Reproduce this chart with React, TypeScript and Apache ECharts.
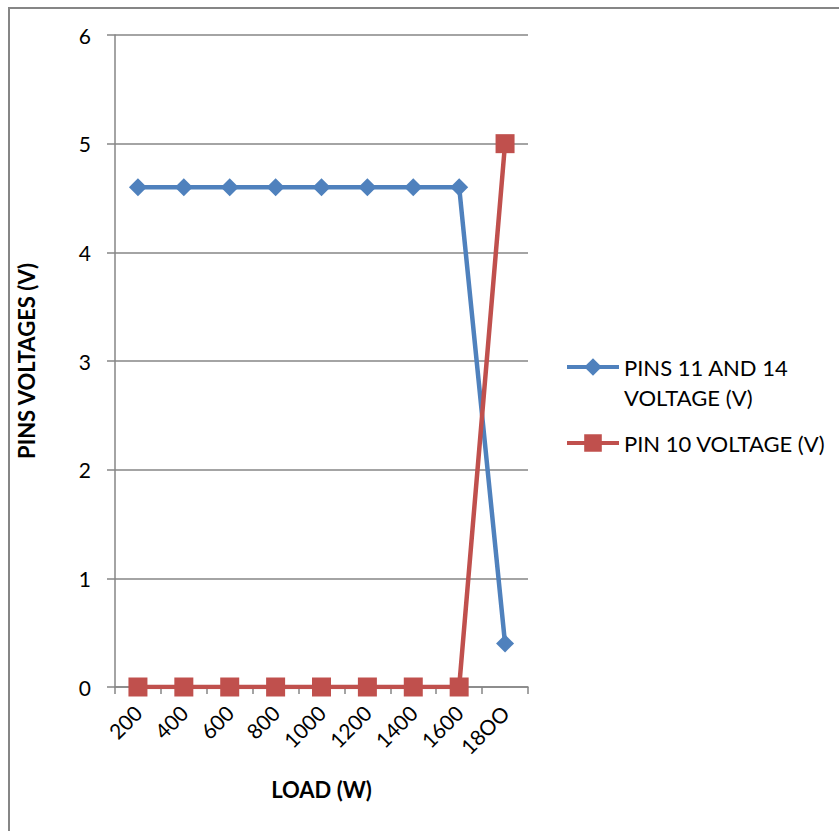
import React, { useEffect, useRef } from "react";
import * as echarts from "echarts";

const categories = ["200", "400", "600", "800", "1000", "1200", "1400", "1600", "18OO"];
const pins11and14 = [4.6, 4.6, 4.6, 4.6, 4.6, 4.6, 4.6, 4.6, 0.4];
const pin10 = [0, 0, 0, 0, 0, 0, 0, 0, 5];
const seriesNames = ["PINS 11 AND 14 VOLTAGE (V)", "PIN 10 VOLTAGE (V)"];

const FONT = "Lato";
const GRAY = "#868686";

export default function App() {
  const ref = useRef<HTMLDivElement>(null);
  useEffect(() => {
    document.body.style.margin = "0";
    const chart = echarts.init(ref.current!, null, { renderer: "svg" });
    chart.setOption({
      animation: false,
      backgroundColor: "#ffffff",
      textStyle: { fontFamily: FONT },
      graphic: [
        {
          type: "rect",
          shape: { x: 9, y: 8, width: 900, height: 900 },
          style: { fill: "none", stroke: GRAY, lineWidth: 2 },
          silent: true,
        },
      ],
      grid: { left: 115, right: 311, top: 35, bottom: 144 },
      legend: [
        {
          data: [seriesNames[0]],
          left: 565,
          top: 322,
          padding: 0,
          itemWidth: 52,
          itemHeight: 22,
          lineStyle: { width: 4 },
          formatter: () => "\nPINS 11 AND 14\nVOLTAGE (V)",
          textStyle: { fontFamily: FONT, fontSize: 22, color: "#000", lineHeight: 30 },
        },
        {
          data: [seriesNames[1]],
          left: 565,
          top: 428,
          padding: 0,
          itemWidth: 52,
          itemHeight: 22,
          lineStyle: { width: 4 },
          textStyle: { fontFamily: FONT, fontSize: 22, color: "#000", lineHeight: 30 },
        },
      ],
      xAxis: {
        type: "category",
        data: categories,
        boundaryGap: true,
        name: "LOAD (W)",
        nameLocation: "middle",
        nameGap: 91,
        nameTextStyle: { fontFamily: FONT, fontSize: 22, fontWeight: "bold", color: "#000" },
        axisLine: { lineStyle: { color: GRAY, width: 1.5 } },
        axisTick: { show: true, length: 7, lineStyle: { color: GRAY, width: 1.5 } },
        axisLabel: { rotate: 45, fontFamily: FONT, fontSize: 21, color: "#000", margin: 22 },
      },
      yAxis: {
        type: "value",
        min: 0,
        max: 6,
        interval: 1,
        name: "PINS VOLTAGES (V)",
        nameLocation: "middle",
        nameGap: 78,
        nameTextStyle: { fontFamily: FONT, fontSize: 22, fontWeight: "bold", color: "#000" },
        axisLine: { show: true, lineStyle: { color: GRAY, width: 1.5 } },
        axisTick: { show: true, length: 8, lineStyle: { color: GRAY, width: 1.5 } },
        splitLine: { show: true, lineStyle: { color: GRAY, width: 1.5 } },
        axisLabel: { fontFamily: FONT, fontSize: 21, color: "#000", margin: 24 },
      },
      series: [
        {
          name: seriesNames[0],
          type: "line",
          data: pins11and14,
          symbol: "diamond",
          symbolSize: 18,
          showAllSymbol: true,
          itemStyle: { color: "#4F81BD" },
          lineStyle: { color: "#4F81BD", width: 4.5 },
        },
        {
          name: seriesNames[1],
          type: "line",
          data: pin10,
          symbol: "rect",
          symbolSize: 19,
          showAllSymbol: true,
          itemStyle: { color: "#C0504D" },
          lineStyle: { color: "#C0504D", width: 4.5 },
        },
      ],
    });
    return () => chart.dispose();
  }, []);
  return <div ref={ref} style={{ width: 839, height: 831 }} />;
}
